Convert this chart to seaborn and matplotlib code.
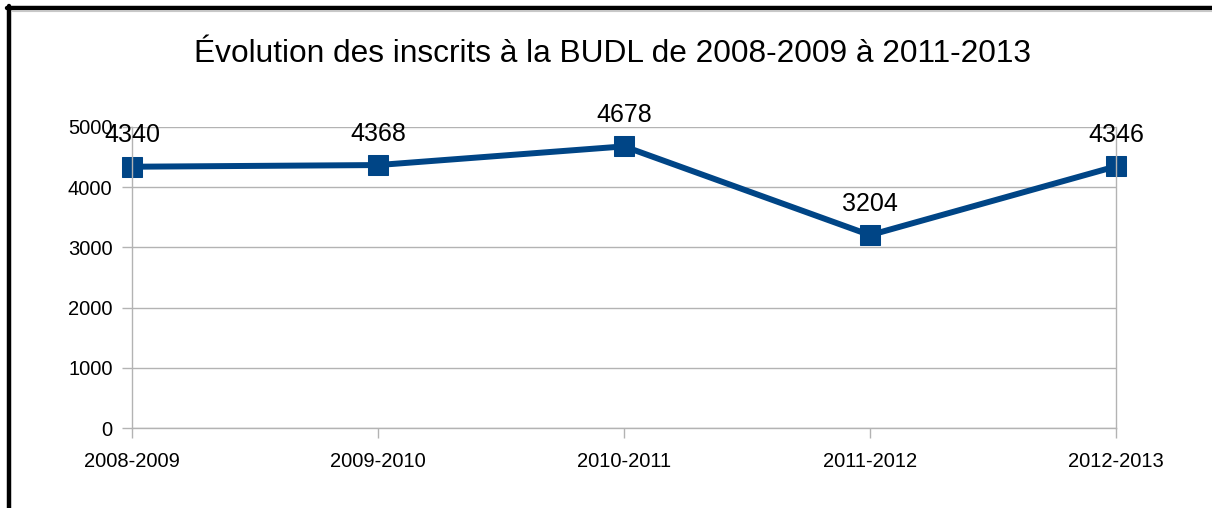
import matplotlib
matplotlib.use("Agg")
import matplotlib.pyplot as plt
import seaborn as sns
import pandas as pd
from matplotlib.lines import Line2D

# Data
annees = ["2008-2009", "2009-2010", "2010-2011", "2011-2012", "2012-2013"]
inscrits = [4340, 4368, 4678, 3204, 4346]
titre = "Évolution des inscrits à la BUDL de 2008-2009 à 2011-2013"

df = pd.DataFrame({"annee": annees, "inscrits": inscrits})

sns.set_style("white")
plt.rcParams["font.family"] = ["Liberation Sans", "DejaVu Sans"]
plt.rcParams["text.color"] = "black"

bleu = "#004586"
gris = "#b3b3b3"

fig = plt.figure(figsize=(12.12, 5.08), dpi=100)
ax = fig.add_axes([132 / 1212, 1 - 428 / 508, (1116 - 132) / 1212, (428 - 127) / 508])

sns.lineplot(data=df, x="annee", y="inscrits", ax=ax, color=bleu, linewidth=4.3,
             marker="s", markersize=14.5, markeredgecolor=bleu, sort=False, clip_on=False)

# Data labels above each point
for i, v in enumerate(inscrits):
    ax.annotate(str(v), (i, v), xytext=(0, 14), textcoords="offset points",
                ha="center", va="bottom", fontsize=18, color="black")

ax.set_xlim(0, len(annees) - 1)
ax.set_ylim(0, 5000)
ax.set_yticks(range(0, 5001, 1000))
ax.set_xlabel("")
ax.set_ylabel("")
ax.grid(axis="y", color=gris, linewidth=1)
ax.set_axisbelow(True)

ax.spines["top"].set_visible(False)
for side in ["left", "right", "bottom"]:
    ax.spines[side].set_color(gris)
    ax.spines[side].set_linewidth(1)

ax.tick_params(axis="both", which="both", length=7, width=1, color=gris,
               labelsize=14.5, labelcolor="black", direction="out")
ax.tick_params(axis="x", pad=10, bottom=True)
ax.tick_params(axis="y", pad=7, left=True)

fig.text(0.505, 1 - 54 / 508, titre, ha="center", va="center", fontsize=22.8, color="black")

# Outer frame (top and left only, like the screenshot)
fig.add_artist(Line2D([7 / 1212, 1], [1 - 7.5 / 508, 1 - 7.5 / 508], color="black", linewidth=3.2,
                      transform=fig.transFigure))
fig.add_artist(Line2D([9 / 1212, 9 / 1212], [0, 1 - 6 / 508], color="black", linewidth=3.2,
                      transform=fig.transFigure))
fig.add_artist(Line2D([11.5 / 1212, 1], [1 - 10.5 / 508, 1 - 10.5 / 508], color="#c8c8c8", linewidth=0.8,
                      transform=fig.transFigure))

fig.savefig("out.png", dpi=100)
